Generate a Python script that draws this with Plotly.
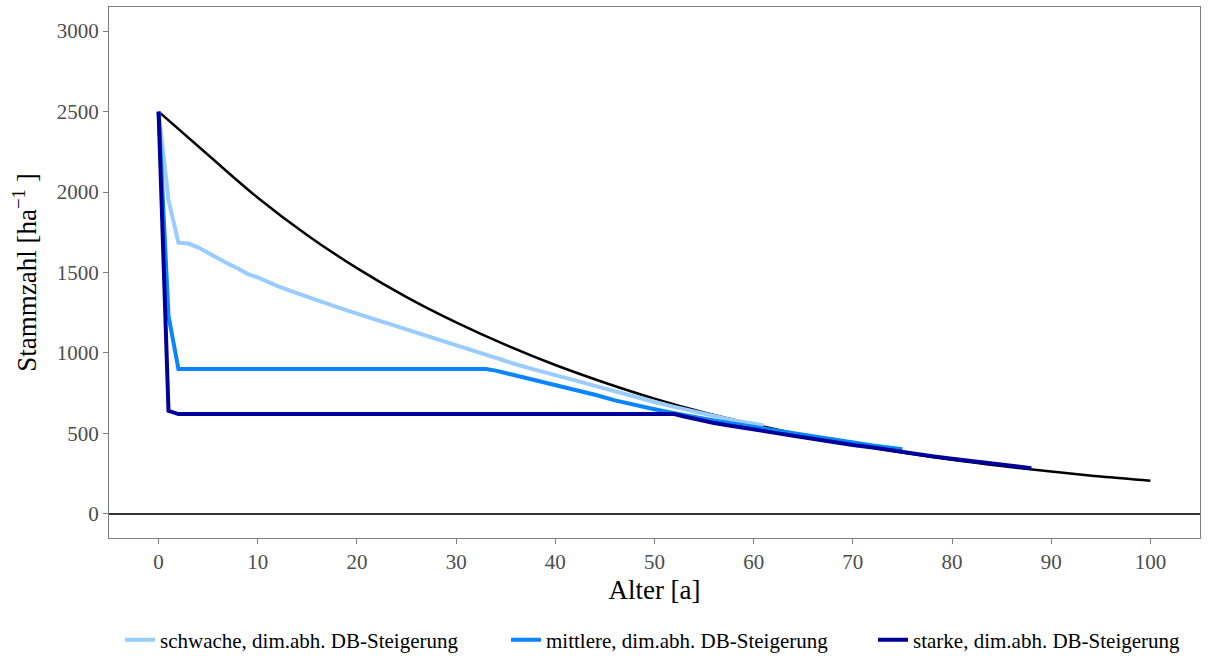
import plotly.graph_objects as go

# Stand development: stem number per hectare over stand age
alter_ref = [0, 5, 10, 15, 20, 25, 30, 35, 40, 45, 50, 55, 60, 65, 70, 75, 80, 85, 90, 95, 100]
n_ref = [2500, 2230, 1965, 1732, 1527, 1347, 1190, 1050, 925, 815, 716, 630, 556, 490, 432,
         381, 336, 297, 263, 232, 206]

alter_schwach = [0, 1, 2, 3, 4, 5, 6, 7, 8, 9, 10, 12, 14, 16, 18, 20, 22, 24, 26, 28, 30,
                 32, 34, 36, 38, 40, 42, 44, 46, 48, 50, 52, 54, 56, 58, 60, 61]
n_schwach = [2500, 1950, 1685, 1680, 1655, 1620, 1585, 1555, 1525, 1490, 1470, 1415, 1370,
             1325, 1285, 1245, 1205, 1165, 1125, 1090, 1045, 1005, 965, 930, 895, 865, 830,
             795, 760, 725, 695, 665, 635, 605, 580, 560, 550]

alter_mittel = [0, 1, 2, 33, 34, 35, 36, 37, 38, 39, 40, 42, 44, 46, 48, 50, 52, 54, 56, 58,
                60, 62, 64, 66, 68, 70, 72, 74, 75]
n_mittel = [2500, 1230, 900, 900, 890, 875, 862, 850, 832, 820, 803, 770, 740, 705, 675, 650,
            625, 600, 580, 560, 540, 520, 500, 480, 460, 440, 425, 410, 402]

alter_stark = [0, 1, 2, 52, 53, 54, 55, 56, 58, 60, 62, 64, 66, 68, 70, 72, 74, 76, 78, 80,
               82, 84, 86, 88]
n_stark = [2500, 640, 620, 620, 605, 590, 575, 565, 545, 522, 505, 485, 465, 445, 428, 412,
           392, 375, 358, 342, 328, 314, 298, 284]

x_ticks = list(range(0, 101, 10))
y_ticks = list(range(0, 3001, 500))

FONT = "Liberation Serif"
W, H = 1218, 656

fig = go.Figure()
fig.add_trace(go.Scatter(x=alter_ref, y=n_ref, mode="lines", showlegend=False,
                         line=dict(color="black", width=2.5, shape="spline", smoothing=1.0)))
fig.add_trace(go.Scatter(x=alter_schwach, y=n_schwach, mode="lines",
                         name="schwache, dim.abh. DB-Steigerung", legend="legend",
                         line=dict(color="#99CCFF", width=4)))
fig.add_trace(go.Scatter(x=alter_mittel, y=n_mittel, mode="lines",
                         name="mittlere, dim.abh. DB-Steigerung", legend="legend2",
                         line=dict(color="#0A84FF", width=4)))
fig.add_trace(go.Scatter(x=alter_stark, y=n_stark, mode="lines",
                         name="starke, dim.abh. DB-Steigerung", legend="legend3",
                         line=dict(color="#000099", width=4)))

axis_common = dict(showgrid=False, showline=True, mirror=True, linecolor="#7F7F7F",
                   linewidth=1, ticks="outside", ticklen=5, tickcolor="#7F7F7F",
                   automargin=False,
                   tickfont=dict(family=FONT, size=21, color="#4D4D4D"))

fig.update_xaxes(range=[-5, 105], tickvals=x_ticks, zeroline=False,
                 title=dict(text="Alter [a]", font=dict(family=FONT, size=27, color="black"),
                            standoff=6),
                 **axis_common)
fig.update_yaxes(range=[-150, 3150], tickvals=y_ticks, zeroline=True,
                 zerolinecolor="#333333", zerolinewidth=1.5,
                 title=dict(text="Stammzahl [ha<sup>−1</sup> ]",
                            font=dict(family=FONT, size=27, color="black"), standoff=12),
                 **axis_common)

legend_style = dict(orientation="h", xref="container", yref="container",
                    y=(H - 640) / H, yanchor="middle", xanchor="left",
                    font=dict(family=FONT, size=21, color="black"), itemwidth=30,
                    bgcolor="rgba(0,0,0,0)")

fig.update_layout(
    width=W, height=H,
    margin=dict(l=109, r=18, t=7, b=118, autoexpand=False),
    plot_bgcolor="white", paper_bgcolor="white",
    font=dict(family=FONT),
    legend=dict(x=120 / W, **legend_style),
    legend2=dict(x=506 / W, **legend_style),
    legend3=dict(x=873 / W, **legend_style),
)

fig.write_html("out.html")
